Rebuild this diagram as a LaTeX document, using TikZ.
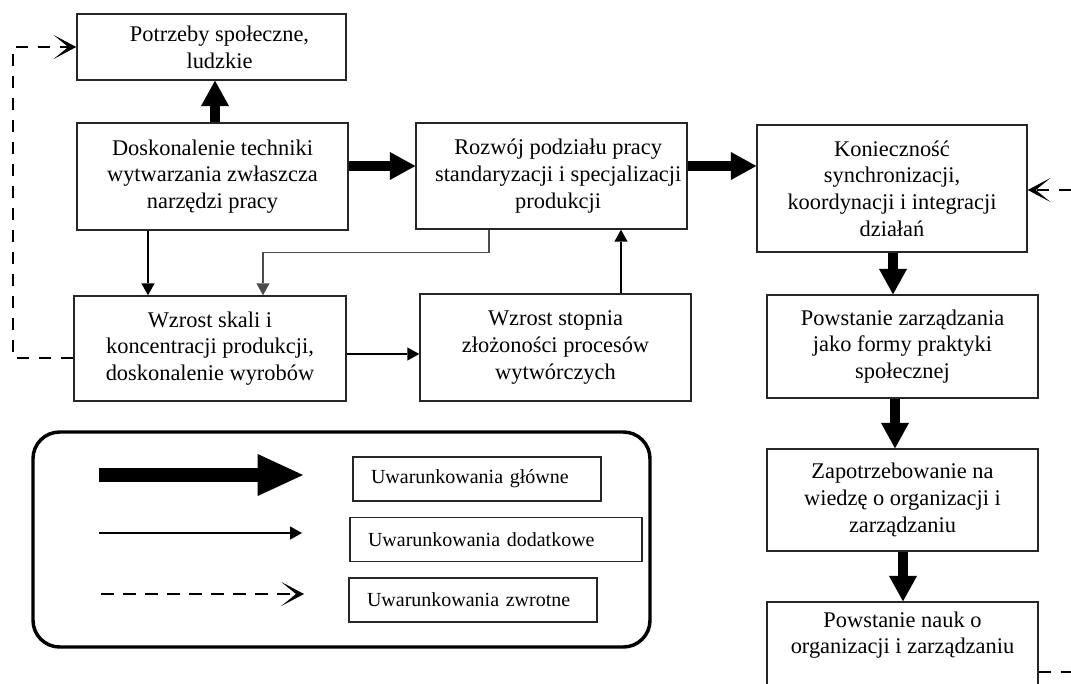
\documentclass[tikz,border=0pt]{standalone}
\usepackage{fontspec}
\setmainfont{Liberation Serif}
\usetikzlibrary{arrows.meta,calc}

\tikzset{
  box/.style={draw=black!85, line width=1.1pt, inner sep=0pt, align=center,
    font=\fontsize{16.8}{20}\selectfont,
    minimum width=271*0.75pt, minimum height=106*0.75pt},
  keybox/.style={draw=black!85, line width=1.1pt, inner xsep=18*0.75pt, inner ysep=0pt,
    align=left, font=\fontsize{15}{18}\selectfont, minimum height=44*0.75pt},
  mainarrow/.style={line width=7.5pt, -{Triangle[width=21pt,length=19pt,line width=0pt]}},
  sidearrow/.style={line width=1.1pt, -{Triangle[width=10pt,length=9pt,line width=0pt]}},
  backarrow/.style={line width=2.2pt, dash pattern=on 9.5pt off 7pt,
    -{Stealth[width=18pt,length=17pt,inset=11pt,line width=0pt]}},
}

\begin{document}
\begin{tikzpicture}[x=0.75pt,y=-0.75pt]
\path[use as bounding box, fill=white] (0,0) rectangle (1071,683);
\clip (0,0) rectangle (1071,683);

% process boxes
\node[box, minimum width=269*0.75pt, minimum height=66*0.75pt] (A) at (211.5,47) {\hspace*{12pt}Potrzeby społeczne,\\ \hspace*{12pt}ludzkie};
\node[box, minimum height=107*0.75pt] (B) at (212.5,176.5) {Doskonalenie techniki\\ wytwarzania zwłaszcza\\ narzędzi pracy};
\node[box] (C) at (551.5,176) {\hspace*{10pt}Rozwój podziału pracy\\ \hspace*{10pt}standaryzacji i specjalizacji\\ \hspace*{10pt}produkcji};
\node[box, minimum width=270*0.75pt, minimum height=127*0.75pt] (D) at (892,188.5) {Konieczność\\ synchronizacji,\\ koordynacji i integracji\\ działań};
\node[box, minimum width=272*0.75pt, minimum height=105*0.75pt] (E) at (210,348.5) {Wzrost skali i\\ koncentracji produkcji,\\ doskonalenie wyrobów};
\node[box, minimum height=107*0.75pt] (F) at (555.5,347.5) {Wzrost stopnia\\ złożoności procesów\\ wytwórczych};
\node[box, minimum height=103*0.75pt] (G) at (902.5,346.5) {Powstanie zarządzania\\ jako formy praktyki\\ społecznej};
\node[box, minimum height=102*0.75pt] (H) at (902.5,500) {Zapotrzebowanie na\\ wiedzę o organizacji i\\ zarządzaniu};
\node[box, minimum height=96*0.75pt] (I) at (902.5,650) {Powstanie nauk o\\ organizacji i zarządzaniu\\ \strut};

% main conditions
\draw[mainarrow] (B.north -| 215,0) -- (A.south -| 215,0);
\draw[mainarrow] (B.east |- 0,166) -- (C.west |- 0,166);
\draw[mainarrow] (C.east |- 0,166) -- (D.west |- 0,166);
\draw[mainarrow] (D.south -| 893,0) -- (G.north -| 893,0);
\draw[mainarrow] (G.south -| 895,0) -- (H.north -| 895,0);
\draw[mainarrow] (H.south -| 903,0) -- (I.north -| 903,0);

% additional conditions
\draw[sidearrow] (B.south -| 148,0) -- (E.north -| 148,0);
\draw[sidearrow, black!70] (C.south -| 489,0) -- ++(0,23) -| (E.north -| 263,0);
\draw[sidearrow] (F.north -| 621,0) -- (C.south -| 621,0);
\draw[sidearrow] (E.east |- 0,354) -- (F.west |- 0,354);

% feedback
\draw[backarrow] (E.west |- 0,358) -| (13,47) -- (A.west |- 0,47);
\draw[backarrow] (I.east |- 0,672) -- (1100,672) |- (D.east |- 0,190);

% legend
\node[draw, line width=2.6pt, rounded corners=20pt, minimum width=617*0.75pt, minimum height=215*0.75pt] (legend) at (341.5,539.5) {};
\coordinate (k1a) at (99,475);  \coordinate (k1b) at (303,475);
\coordinate (k2a) at (99,533);  \coordinate (k2b) at (302,533);
\coordinate (k3a) at (101,594); \coordinate (k3b) at (304,594);
\draw[line width=10.5pt, -{Triangle[width=31.5pt,length=34pt,line width=0pt]}] (k1a) -- (k1b);
\draw[sidearrow] (k2a) -- (k2b);
\draw[backarrow] (k3a) -- (k3b);
\node[keybox, text width=212*0.75pt] (l1) at (477,479) {Uwarunkowania główne};
\node[keybox, text width=256*0.75pt] (l2) at (496,539.5) {Uwarunkowania dodatkowe};
\node[keybox, text width=212*0.75pt] (l3) at (473,600) {Uwarunkowania zwrotne};
\end{tikzpicture}
\end{document}
